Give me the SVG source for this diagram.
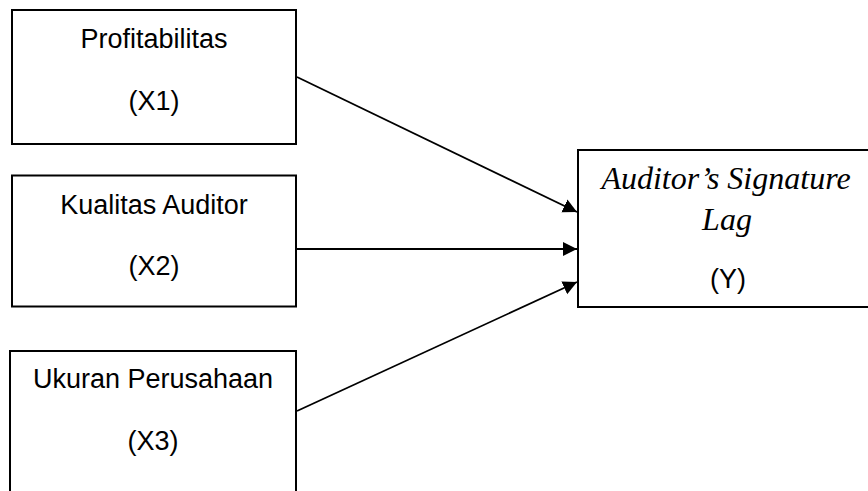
<svg xmlns="http://www.w3.org/2000/svg" width="868" height="491" viewBox="0 0 868 491">
  <style>
    .box { fill: #ffffff; stroke: #000000; stroke-width: 2; }
    .lbl { font-family: "Liberation Sans", Arial, sans-serif; font-size: 27px; fill: #000000; text-anchor: middle; }
    .it { font-family: "Liberation Serif", "Times New Roman", serif; font-style: italic; font-size: 32px; fill: #000000; text-anchor: middle; }
    .conn { stroke: #000000; stroke-width: 1.8; fill: none; marker-end: url(#arrow); }
  </style>
  <defs>
    <marker id="arrow" markerUnits="userSpaceOnUse" markerWidth="15" markerHeight="15" refX="14" refY="7.5" orient="auto">
      <path d="M0,0.5 L14,7.5 L0,14.5 z" fill="#000000"/>
    </marker>
  </defs>
  <rect width="868" height="491" fill="#ffffff"/>
  <g id="x1">
    <rect class="box" x="12" y="10" width="284" height="134"/>
    <text class="lbl" x="154" y="48">Profitabilitas</text>
    <text class="lbl" x="154" y="110">(X1)</text>
  </g>
  <g id="x2">
    <rect class="box" x="12" y="175.5" width="284" height="131"/>
    <text class="lbl" x="154" y="214">Kualitas Auditor</text>
    <text class="lbl" x="154" y="275">(X2)</text>
  </g>
  <g id="x3">
    <rect class="box" x="10" y="351" width="286" height="160"/>
    <text class="lbl" x="153" y="388">Ukuran Perusahaan</text>
    <text class="lbl" x="153" y="450">(X3)</text>
  </g>
  <g id="y">
    <rect class="box" x="578" y="150" width="310" height="157"/>
    <text class="it" x="726" y="189">Auditor’s Signature</text>
    <text class="it" x="727" y="230">Lag</text>
    <text class="lbl" x="728" y="288">(Y)</text>
  </g>
  <g id="connectors">
    <line class="conn" x1="297" y1="77" x2="577" y2="212"/>
    <line class="conn" x1="297" y1="249" x2="577" y2="249"/>
    <line class="conn" x1="297" y1="411" x2="577" y2="282"/>
  </g>
</svg>
